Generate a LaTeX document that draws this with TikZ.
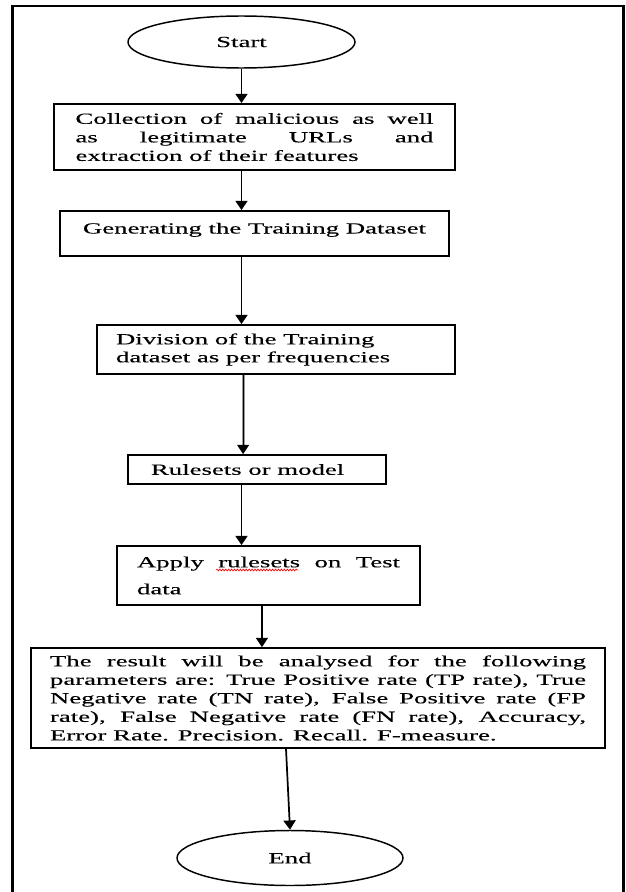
\documentclass[tikz,border=0pt]{standalone}
\usepackage{fontspec}
\setmainfont{Liberation Serif}[FakeStretch=1.73,FakeBold=0.25]
\usetikzlibrary{shapes.geometric,arrows.meta,decorations.pathmorphing}
\newcommand\natspace{\spaceskip=0pt \xspaceskip=0pt\relax}
\begin{document}
\begin{tikzpicture}[x=0.75pt,y=-0.75pt,
  txt/.style={font={\fontsize{11.6pt}{13.9pt}\selectfont}},
  boxnode/.style={draw, line width=1.3pt, inner sep=0pt, align=left, txt},
  oval/.style={draw, ellipse, line width=1.1pt, inner sep=0pt, txt},
  arr/.style={line width=1.3pt, -{Triangle[width=9pt,length=7pt]}}]
\useasboundingbox (0,0) rectangle (625,892);
% outer frame
\draw[line width=1.6pt] (12.5,893) -- (12.5,6) -- (623.5,6) -- (623.5,893);

\node[oval, minimum width=170.25pt, minimum height=39pt] (start) at (241.5,42) {Start};

\node[boxnode, minimum width=300.75pt, minimum height=49.5pt, text width=268.5pt] (b1) at (254.5,137)
  {\natspace\makebox[268.5pt][s]{Collection of malicious as well}\\
   \makebox[268.5pt][s]{as legitimate URLs and}\\
   extraction of their features};

\node[boxnode, minimum width=291.75pt, minimum height=33.75pt, text height=7.9pt, text depth=7.9pt] (b2) at (254.5,233.5)
  {\natspace Generating the Training Dataset};

\node[boxnode, minimum width=268.5pt, minimum height=36.75pt, text width=240pt,
  font={\fontsize{11.6pt}{13.5pt}\selectfont}] (b3) at (276,349.5)
  {\natspace Division of the Training\\dataset as per frequencies};

\node[boxnode, minimum width=193.5pt, minimum height=21.75pt, text width=159pt] (b4) at (257,469.5)
  {\natspace Rulesets or model};

\node[boxnode, minimum width=227.25pt, minimum height=44.25pt, text width=197.25pt,
  font={\fontsize{11.6pt}{20.25pt}\selectfont}] (b5) at (268.5,575.5)
  {\natspace\makebox[197.25pt][s]{Apply rulesets on Test}\\data};

\node[boxnode, minimum width=430.5pt, minimum height=75pt, text width=402pt] (b6) at (318,698)
  {\natspace\makebox[402pt][s]{The result will be analysed for the following}\\
   \makebox[402pt][s]{parameters are: True Positive rate (TP rate), True}\\
   \makebox[402pt][s]{Negative rate (TN rate), False Positive rate (FP}\\
   \makebox[402pt][s]{rate), False Negative rate (FN rate), Accuracy,}\\
   Error Rate. Precision. Recall. F-measure.};

\node[oval, minimum width=169.5pt, minimum height=41.25pt] (endn) at (290,858) {End};

% spell-check underline
\draw[red, line width=0.5pt, decorate, decoration={snake, segment length=2.2pt, amplitude=0.7pt}]
  (216,570) -- (298,570);

% connectors
\draw[arr] (start.south) -- (start.south |- b1.north);
\draw[arr] (start.south |- b1.south) -- (start.south |- b2.north);
\draw[arr] (start.south |- b2.south) -- (start.south |- b3.north);
\draw[line width=2.4pt, black!40, shorten >=5pt] ([xshift=1.2pt]start.south |- b3.south) -- ([xshift=1.2pt]start.south |- b4.north);
\draw[arr, line width=0.8pt] ([xshift=1.2pt]start.south |- b3.south) -- ([xshift=1.2pt]start.south |- b4.north);
\draw[arr] (start.south |- b4.south) -- (start.south |- b5.north);
\draw[arr] ([xshift=-4.9pt]b5.south) -- ([xshift=-4.9pt]b5.south |- b6.north);
\draw[arr] ([xshift=-24pt]b6.south) -- (endn.north);
\end{tikzpicture}
\end{document}
